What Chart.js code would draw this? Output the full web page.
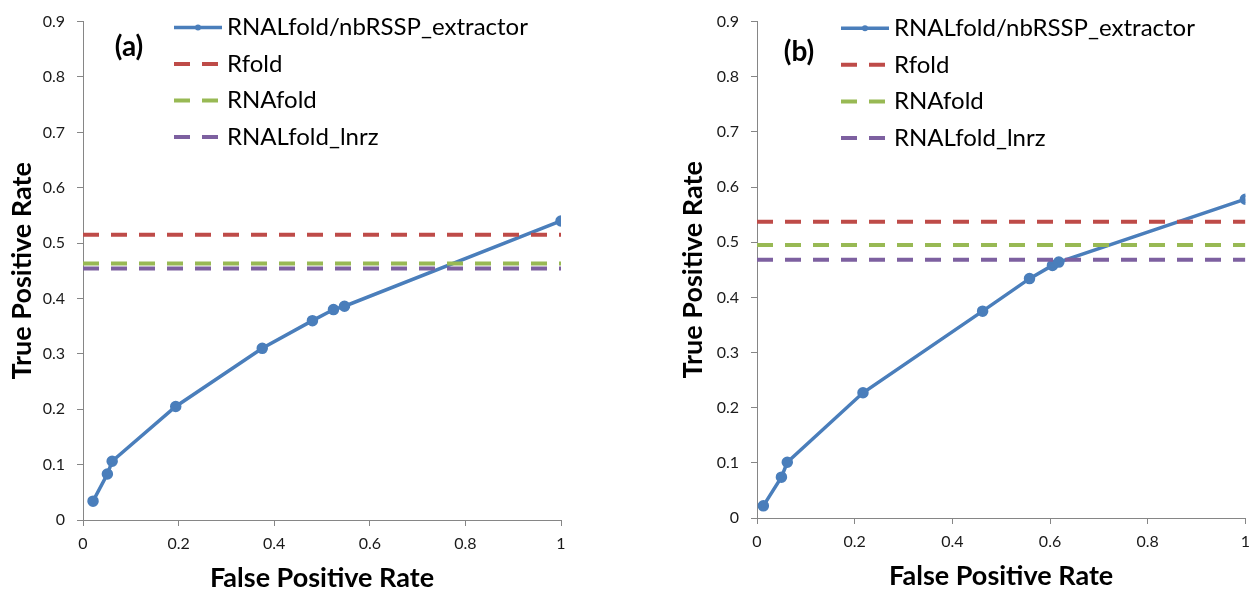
<!DOCTYPE html>
<html>
<head>
<meta charset="utf-8">
<title>ROC curves</title>
<script src="https://cdn.jsdelivr.net/npm/chart.js@4.4.1/dist/chart.umd.min.js"></script>
<style>
    body { margin: 0; background: #fff; }
    .panel { position: absolute; top: 0; height: 592px; }
    #panelA { left: 0; width: 620px; }
    #panelB { left: 630px; width: 628px; }
</style>
</head>
<body>
<div class="panel" id="panelA"><canvas id="chartA" width="620" height="592"></canvas></div>
<div class="panel" id="panelB"><canvas id="chartB" width="628" height="592"></canvas></div>
<script>
// Series names
const curveName = 'RNALfold/nbRSSP_extractor';
const baselineNames = ['Rfold', 'RNAfold', 'RNALfold_lnrz'];

// Panel (a)
const fprA = [0.021, 0.051, 0.061, 0.194, 0.375, 0.480, 0.524, 0.547, 1.0];
const tprA = [0.034, 0.083, 0.106, 0.205, 0.310, 0.360, 0.380, 0.386, 0.540];
const baselineA = [0.515, 0.463, 0.454];

// Panel (b)
const fprB = [0.013, 0.050, 0.062, 0.217, 0.462, 0.558, 0.605, 0.618, 1.0];
const tprB = [0.022, 0.074, 0.101, 0.227, 0.375, 0.434, 0.458, 0.464, 0.578];
const baselineB = [0.537, 0.495, 0.468];

// Tick labels
const xTickLabels = ['0', '0.2', '0.4', '0.6', '0.8', '1'];
const yTickLabels = ['0', '0.1', '0.2', '0.3', '0.4', '0.5', '0.6', '0.7', '0.8', '0.9'];

const colors = ['#4A7EBB', '#BE4B48', '#98B954', '#7D60A0'];
const FONT = 'Lato, "Open Sans", sans-serif';
const AXIS_GREY = '#868686';

// Legend + panel tag drawn inside the plot area (like the Excel original)
const insideLegend = {
    id: 'insideLegend',
    afterDraw(chart, args, opts) {
        const { ctx, chartArea } = chart;
        const x0 = chartArea.left + opts.x;
        ctx.save();

        ctx.font = 'bold 28px ' + FONT;
        ctx.fillStyle = '#000';
        ctx.textAlign = 'center';
        ctx.textBaseline = 'middle';
        ctx.fillText(opts.tag, chartArea.left + opts.tagX, chartArea.top + opts.tagY);

        ctx.font = opts.fontSize + 'px ' + FONT;
        ctx.textAlign = 'left';
        chart.data.datasets.forEach((ds, i) => {
            const y = chartArea.top + opts.y + i * opts.rowGap;
            ctx.strokeStyle = ds.borderColor;
            ctx.lineWidth = ds.borderWidth;
            ctx.setLineDash(ds.borderDash || []);
            ctx.beginPath();
            ctx.moveTo(x0, y);
            ctx.lineTo(x0 + opts.lineLength, y);
            ctx.stroke();
            if (ds.pointRadius) {
                ctx.setLineDash([]);
                ctx.fillStyle = ds.borderColor;
                ctx.beginPath();
                ctx.arc(x0 + opts.lineLength / 2, y, 3, 0, Math.PI * 2);
                ctx.fill();
            }
            ctx.fillStyle = '#000';
            ctx.fillText(ds.label, x0 + opts.lineLength + 5, y);
        });
        ctx.restore();
    }
};

function makeChart(id, fpr, tpr, baselines, L) {
    const datasets = [{
        label: curveName,
        data: fpr.map((x, i) => ({ x: x, y: tpr[i] })),
        borderColor: colors[0],
        backgroundColor: colors[0],
        borderWidth: 3.5,
        pointRadius: 4,
        pointHoverRadius: 4,
        tension: 0,
        order: 1
    }];
    baselineNames.forEach((name, i) => {
        datasets.push({
            label: name,
            data: [{ x: 0, y: baselines[i] }, { x: 1, y: baselines[i] }],
            borderColor: colors[i + 1],
            borderWidth: 4,
            borderDash: [16, 12],
            pointRadius: 0,
            order: 0
        });
    });

    const tickFont = { family: FONT, size: 16 };
    const titleFont = { family: FONT, size: 27, weight: 'bold', lineHeight: 1 };
    const grid = { drawOnChartArea: false, drawTicks: true, tickLength: 6, color: AXIS_GREY };
    const border = { display: true, color: AXIS_GREY, width: 1 };

    return new Chart(document.getElementById(id), {
        type: 'line',
        data: { datasets: datasets },
        plugins: [insideLegend],
        options: {
            responsive: false,
            animation: false,
            layout: { padding: { left: L.padLeft, right: L.padRight, top: L.padTop, bottom: L.padBottom } },
            plugins: {
                legend: { display: false },
                tooltip: { enabled: false },
                insideLegend: L.legend
            },
            scales: {
                x: {
                    type: 'linear',
                    min: 0,
                    max: 1,
                    ticks: {
                        stepSize: 0.2,
                        padding: 8,
                        font: tickFont,
                        color: '#1a1a1a',
                        maxRotation: 0,
                        callback: (v, i) => xTickLabels[i]
                    },
                    grid: grid,
                    border: border,
                    title: { display: true, text: 'False Positive Rate', font: titleFont, color: '#000', padding: 0 },
                    afterFit: s => { s.height = L.xHeight; }
                },
                y: {
                    type: 'linear',
                    min: 0,
                    max: 0.9,
                    ticks: {
                        stepSize: 0.1,
                        padding: 12,
                        font: tickFont,
                        color: '#1a1a1a',
                        callback: (v, i) => yTickLabels[i]
                    },
                    grid: grid,
                    border: border,
                    title: { display: true, text: 'True Positive Rate', font: titleFont, color: '#000', padding: 0 },
                    afterFit: s => { s.width = L.yWidth; }
                }
            }
        }
    });
}

makeChart('chartA', fprA, tprA, baselineA, {
    padLeft: 8.5, padRight: 59, padTop: 20, padBottom: 0, yWidth: 74.5, xHeight: 72,
    legend: { x: 91, y: 6, rowGap: 36.5, lineLength: 48, fontSize: 24, tag: '(a)', tagX: 46, tagY: 25 }
});

makeChart('chartB', fprB, tprB, baselineB, {
    padLeft: 49.5, padRight: 10, padTop: 15, padBottom: 2.5, yWidth: 77.5, xHeight: 71.5,
    legend: { x: 84, y: 6.6, rowGap: 36.6, lineLength: 48, fontSize: 24, tag: '(b)', tagX: 42, tagY: 30 }
});
</script>
</body>
</html>
